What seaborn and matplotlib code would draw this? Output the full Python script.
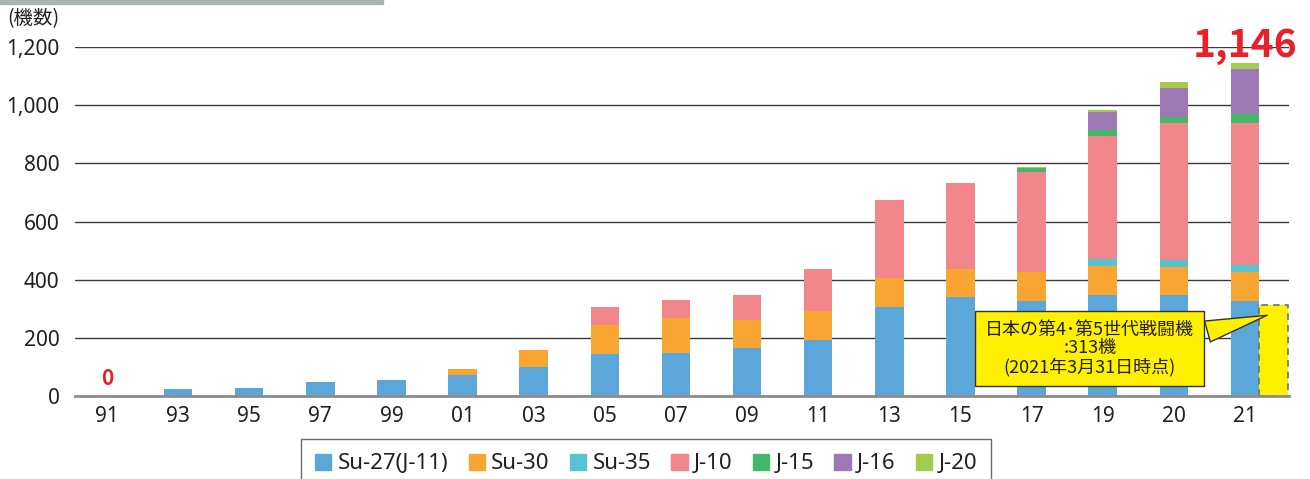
import matplotlib
matplotlib.use("Agg")
import matplotlib.pyplot as plt
import matplotlib.patches as mpatches
import seaborn as sns
import numpy as np
import pandas as pd

# ---- data ----
years = ["91", "93", "95", "97", "99", "01", "03", "05", "07", "09", "11", "13", "15", "17", "19", "20", "21"]
su27 = [0, 24, 26, 48, 54, 72, 100, 146, 147, 166, 193, 306, 340, 325, 346, 346, 325]
su30 = [0, 0, 0, 0, 0, 20, 58, 97, 122, 96, 99, 100, 97, 100, 100, 97, 100]
su35 = [0, 0, 0, 0, 0, 0, 0, 0, 0, 0, 0, 0, 0, 0, 24, 25, 24]
j10 = [0, 0, 0, 0, 0, 0, 0, 63, 61, 85, 145, 269, 296, 344, 423, 469, 488]
j15 = [0, 0, 0, 0, 0, 0, 0, 0, 0, 0, 0, 0, 0, 16, 22, 21, 33]
j16 = [0, 0, 0, 0, 0, 0, 0, 0, 0, 0, 0, 0, 0, 0, 61, 100, 153]
j20 = [0, 0, 0, 0, 0, 0, 0, 0, 0, 0, 0, 0, 0, 4, 9, 20, 23]
series_names = ["Su-27(J-11)", "Su-30", "Su-35", "J-10", "J-15", "J-16", "J-20"]
series_values = [su27, su30, su35, j10, j15, j16, j20]
japan_total = 313
first_label = "0"
last_label = "1,146"
callout_text = "日本の第4･第5世代戦闘機\n:313機\n(2021年3月31日時点)"
y_unit = "(機数)"
y_ticks = [0, 200, 400, 600, 800, 1000, 1200]

colors = ["#5BA7DA", "#F8A531", "#55C4CF", "#F2868A", "#45B76A", "#9E78B5", "#A3CC4F"]

# ---- style ----
sns.set_style("white")
plt.rcParams["font.family"] = ["Noto Sans", "Noto Sans CJK JP", "DejaVu Sans"]
text_col = "#231F20"
cjk = ["Noto Sans CJK JP", "DejaVu Sans"]

fig = plt.figure(figsize=(13.10, 4.79), dpi=100)
ax = fig.add_axes([75 / 1310, 83 / 479, (1289 - 75) / 1310, (396 - 47) / 479])

cum = np.cumsum(np.array(series_values), axis=0)
bw = 0.40
for i in range(len(series_names) - 1, -1, -1):
    df = pd.DataFrame({"year": years, "val": cum[i]})
    sns.barplot(data=df, x="year", y="val", color=colors[i], width=bw,
                saturation=1, ax=ax, zorder=3, linewidth=0)

# Japan dashed box next to 2021 bar
n = len(years)
ax.bar(n - 1 + bw, japan_total, width=bw, color="#FFF000",
       edgecolor="#707070", linestyle=(0, (4, 3)), linewidth=1.2, zorder=3)

ax.set_xlim(-0.45, n - 1 + 0.62)
ax.set_ylim(0, 1200)
ax.set_yticks(y_ticks)
ax.set_yticklabels([f"{v:,}" for v in y_ticks])
ax.set_xlabel("")
ax.set_ylabel("")
ax.tick_params(axis="both", length=0, labelsize=15, colors=text_col)
ax.tick_params(axis="y", pad=11)
ax.tick_params(axis="x", pad=7)
ax.yaxis.grid(True, color="#3a3a3a", linewidth=1.0, zorder=0)
ax.xaxis.grid(False)
ax.set_axisbelow(True)
for s in ["top", "right", "left"]:
    ax.spines[s].set_visible(False)
ax.spines["bottom"].set_color("#8c8c8c")
ax.spines["bottom"].set_linewidth(2)
ax.spines["bottom"].set_zorder(4)

# labels
ax.text(0, 60, first_label, color="#E8202A", fontsize=15, fontweight="bold",
        ha="center", va="center", family=cjk)
ax.text(n - 1, 1168, last_label, color="#E8202A", fontsize=28, fontweight="bold",
        ha="center", va="baseline", clip_on=False, family=cjk)

# callout
ax.annotate(callout_text, xy=(n - 1 + 0.35, 280), xytext=(13.82, 162),
            ha="center", va="center", fontsize=13, color=text_col,
            linespacing=1.02, zorder=6, family=cjk,
            bbox=dict(boxstyle="square,pad=0.55", fc="#FFF000", ec="#333333", lw=1.0),
            arrowprops=dict(arrowstyle="wedge,tail_width=1.2,shrink_factor=0.5",
                            relpos=(1.0, 0.75),
                            fc="#FFF000", ec="#333333", lw=1.0))

# header bar and unit label
fig.patches.append(mpatches.Rectangle((0, 1 - 4 / 479), 383 / 1310, 4 / 479,
                                      transform=fig.transFigure, color="#A9B5AE"))
fig.text(7 / 1310, 1 - 19 / 479, y_unit, fontsize=14, color=text_col, va="center", ha="left",
         family=cjk)

# legend
handles = [mpatches.Patch(color=c, label=l) for c, l in zip(colors, series_names)]
leg = fig.legend(handles=handles, loc="upper center", bbox_to_anchor=(646 / 1310, 40 / 479),
                 ncol=7, fontsize=16, frameon=True, fancybox=False, edgecolor="#444444",
                 handlelength=0.73, handleheight=0.73, handletextpad=0.28,
                 columnspacing=0.92, borderpad=0.65, borderaxespad=0, labelcolor=text_col)
leg.get_frame().set_linewidth(1.0)

fig.savefig("out.png", dpi=100)
